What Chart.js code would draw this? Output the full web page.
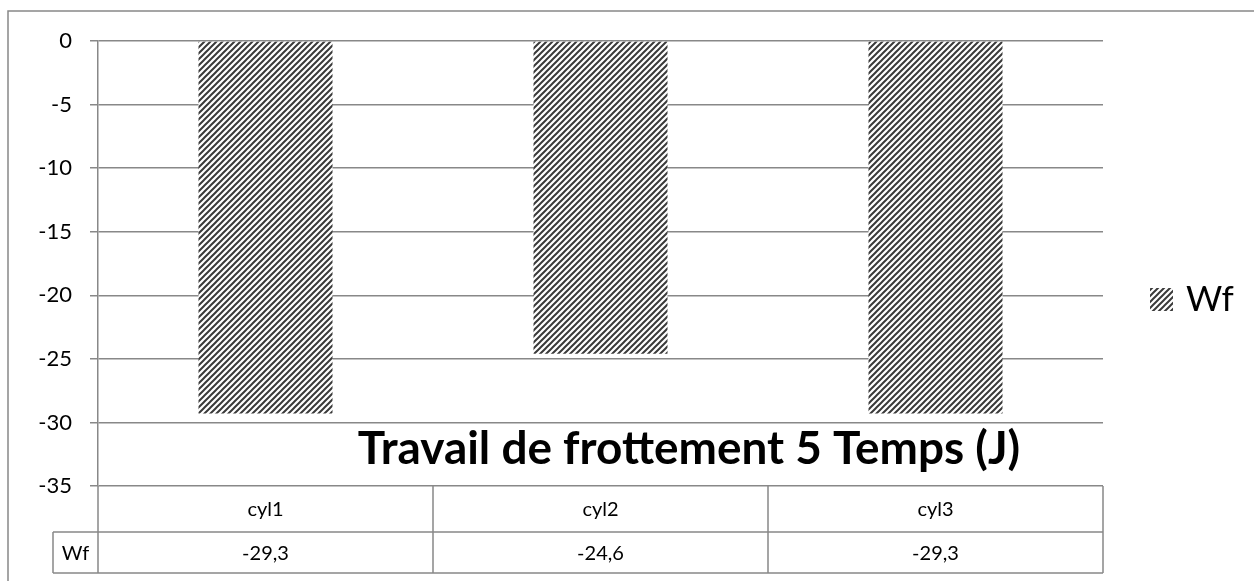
<!DOCTYPE html>
<html>
<head>
<meta charset="utf-8">
<script src="https://cdn.jsdelivr.net/npm/chart.js@4/dist/chart.umd.min.js"></script>
<style>
  html, body { margin: 0; padding: 0; background: #ffffff; }
  #wrap { width: 1254px; height: 581px; position: relative; }
</style>
</head>
<body>
<div id="wrap"><canvas id="c" width="1254" height="581"></canvas></div>
<script>
// ---- data ----
const categories = ['cyl1', 'cyl2', 'cyl3'];
const wfValues = [-29.3, -24.6, -29.3];
const seriesName = 'Wf';
const chartTitle = 'Travail de frottement 5 Temps (J)';
const yMin = -35;
const yMax = 0;
const yStep = 5;

// ---- style ----
const FONT = 'Lato, "Open Sans", "Noto Sans", sans-serif';
const LINE = '#888888';

function makeHatch() {
  const s = 6;
  const c = document.createElement('canvas');
  c.width = s; c.height = s;
  const g = c.getContext('2d');
  g.fillStyle = '#ffffff';
  g.fillRect(0, 0, s, s);
  g.strokeStyle = '#3a3a3a';
  g.lineWidth = 2;
  g.beginPath();
  g.moveTo(-s, s * 2); g.lineTo(s * 2, -s);
  g.moveTo(-s, s); g.lineTo(s, -s);
  g.moveTo(0, s * 2); g.lineTo(s * 2, 0);
  g.stroke();
  return g.createPattern(c, 'repeat');
}
const hatch = makeHatch();

const fmt = v => v.toFixed(1).replace('.', ',');

const decorPlugin = {
  id: 'decor',
  afterDraw(chart) {
    const ctx = chart.ctx;
    const area = chart.chartArea;
    const xs = chart.scales.x;
    ctx.save();
    // outer border
    ctx.strokeStyle = LINE;
    ctx.lineWidth = 1.5;
    ctx.beginPath();
    ctx.moveTo(8, 581); ctx.lineTo(8, 11); ctx.lineTo(1254, 11);
    ctx.stroke();

    // data table
    const left = area.left, right = area.right, top = area.bottom;
    const row1 = 532, row2 = 573, hdrLeft = 53;
    ctx.beginPath();
    ctx.moveTo(left, top); ctx.lineTo(left, row2);
    ctx.moveTo(hdrLeft, row1); ctx.lineTo(right, row1);
    ctx.moveTo(hdrLeft, row2); ctx.lineTo(right, row2);
    ctx.moveTo(hdrLeft, row1); ctx.lineTo(hdrLeft, row2);
    const n = categories.length;
    const w = (right - left) / n;
    for (let i = 1; i <= n; i++) {
      ctx.moveTo(left + w * i, top); ctx.lineTo(left + w * i, row2);
    }
    ctx.stroke();

    ctx.fillStyle = '#000';
    ctx.textAlign = 'center';
    ctx.textBaseline = 'middle';
    ctx.font = '20px ' + FONT;
    categories.forEach((cat, i) => {
      const cx = xs.getPixelForValue(i);
      ctx.fillText(cat, cx, (top + row1) / 2 + 1);
      ctx.fillText(fmt(wfValues[i]), cx, (row1 + row2) / 2 + 1);
    });
    ctx.fillText(seriesName, (hdrLeft + left) / 2, (row1 + row2) / 2 + 1);

    // title overlaid in plot
    let size = 40;
    ctx.font = 'bold ' + size + 'px ' + FONT;
    const tw = ctx.measureText(chartTitle).width;
    size = size * 662 / tw;
    ctx.font = 'bold ' + size.toFixed(1) + 'px ' + FONT;
    ctx.textBaseline = 'alphabetic';
    ctx.fillText(chartTitle, 689, 464);

    // legend
    ctx.fillStyle = hatch;
    ctx.fillRect(1150, 288, 23, 23);
    ctx.fillStyle = '#000';
    ctx.textAlign = 'left';
    ctx.textBaseline = 'middle';
    ctx.font = '35px ' + FONT;
    ctx.fillText(seriesName, 1186, 300);
    ctx.restore();
  }
};

new Chart(document.getElementById('c'), {
  type: 'bar',
  data: {
    labels: categories,
    datasets: [{
      label: seriesName,
      data: wfValues,
      backgroundColor: hatch,
      borderWidth: 0,
      barPercentage: 0.4,
      categoryPercentage: 1.0
    }]
  },
  options: {
    responsive: false,
    animation: false,
    events: [],
    layout: { padding: { left: 0, right: 151, top: 41, bottom: 0 } },
    plugins: {
      legend: { display: false },
      title: { display: false },
      tooltip: { enabled: false }
    },
    scales: {
      x: {
        grid: { display: false },
        border: { display: false },
        ticks: { display: false },
        afterFit(scale) { scale.height = 95; }
      },
      y: {
        min: yMin,
        max: yMax,
        ticks: {
          stepSize: yStep,
          padding: 18,
          color: '#000',
          font: { family: FONT, size: 22 },
          callback: v => String(v)
        },
        grid: { color: LINE, lineWidth: 1.5, tickLength: 8, drawTicks: true },
        border: { display: true, color: LINE, width: 1.5 },
        afterFit(scale) { scale.width = 98; }
      }
    }
  },
  plugins: [decorPlugin]
});
</script>
</body>
</html>
